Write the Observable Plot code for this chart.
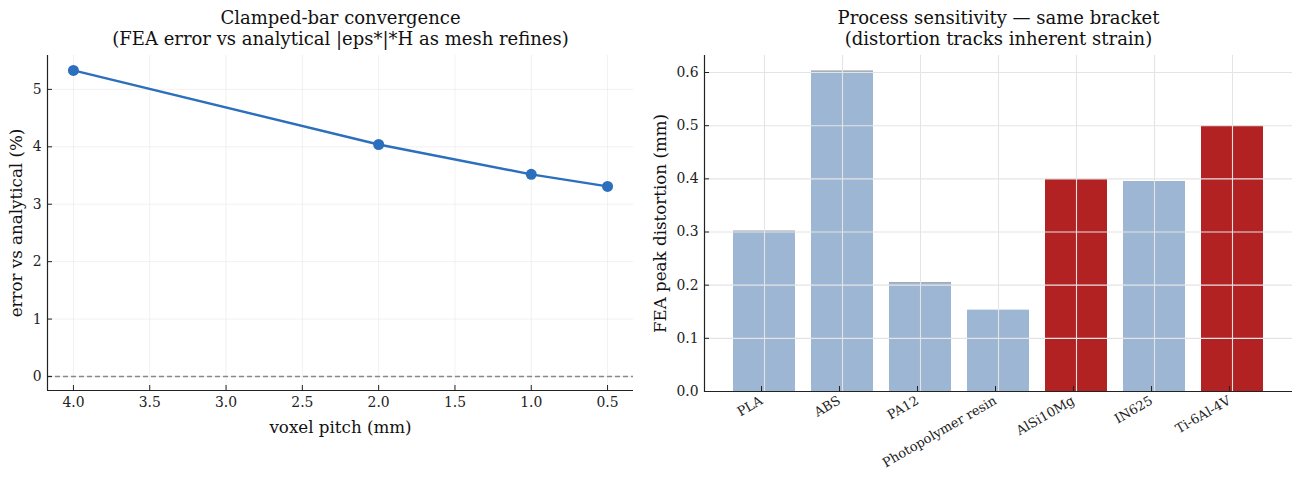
<!DOCTYPE html>
<html>
<head>
<meta charset="utf-8">
<script src="https://cdn.jsdelivr.net/npm/d3@7"></script>
<script src="https://cdn.jsdelivr.net/npm/@observablehq/plot@0.6"></script>
<style>
  body { margin: 0; background: #fff; }
  #wrap { display: flex; width: 1299px; height: 480px; }
  svg { font-family: "DejaVu Serif", serif; }
</style>
</head>
<body>
<div id="wrap"></div>
<script>
// ---- Left panel data ----
const pitch = [4.0, 2.0, 1.0, 0.5];
const errPct = [5.33, 4.04, 3.52, 3.31];
const pitchTicks = [4.0, 3.5, 3.0, 2.5, 2.0, 1.5, 1.0, 0.5];
const errTicks = [0, 1, 2, 3, 4, 5];
const leftTitle = ["Clamped-bar convergence", "(FEA error vs analytical |eps*|*H as mesh refines)"];
const leftXLabel = "voxel pitch (mm)";
const leftYLabel = "error vs analytical (%)";

// ---- Right panel data ----
const materials = ["PLA", "ABS", "PA12", "Photopolymer resin", "AlSi10Mg", "IN625", "Ti-6Al-4V"];
const distortion = [0.301, 0.602, 0.204, 0.153, 0.399, 0.395, 0.499];
const highlighted = [false, false, false, false, true, false, true];
const edgeTop = [0.302, 0.603, 0.205, null, null, null, null];
const distTicks = [0.0, 0.1, 0.2, 0.3, 0.4, 0.5, 0.6];
const rightTitle = ["Process sensitivity \u2014 same bracket", "(distortion tracks inherent strain)"];
const rightYLabel = "FEA peak distortion (mm)";

const lineData = pitch.map((p, i) => ({pitch: p, err: errPct[i]}));
const barData = materials.map((m, i) => ({material: m, value: distortion[i], hi: highlighted[i], edge: edgeTop[i]}));

const TITLE = 18, LABEL = 16.7, TICK = 13.9;

const xDom = [4.17, 0.33];
const yDom = [-0.244, 5.59];

const left = Plot.plot({
  width: 650, height: 480,
  marginLeft: 47, marginRight: 17, marginTop: 55, marginBottom: 90,
  style: {fontFamily: "DejaVu Serif", fontSize: "14px", background: "white", color: "#222"},
  x: {domain: xDom, ticks: pitchTicks, tickFormat: d3.format(".1f")},
  y: {domain: yDom, ticks: errTicks, tickFormat: d3.format("d")},
  marks: [
    Plot.gridX(pitchTicks, {stroke: "#e8e8e8", strokeOpacity: 0.6}),
    Plot.gridY(errTicks, {stroke: "#e8e8e8", strokeOpacity: 0.6}),
    Plot.ruleY([0], {stroke: "#888", strokeWidth: 1.3, strokeDasharray: "5,3"}),
    Plot.line(lineData, {x: "pitch", y: "err", stroke: "#2c6fbd", strokeWidth: 2.4}),
    Plot.dot(lineData, {x: "pitch", y: "err", r: 5.5, fill: "#2c6fbd"}),
    Plot.ruleX([xDom[0]], {stroke: "#222", strokeWidth: 1.2}),
    Plot.ruleY([yDom[0]], {stroke: "#222", strokeWidth: 1.2}),
    Plot.axisX(pitchTicks, {tickSize: -5, tickPadding: 12, fontSize: TICK, tickFormat: d3.format(".1f"), label: null, stroke: "#222"}),
    Plot.axisY(errTicks, {tickSize: -5, tickPadding: 11, fontSize: TICK, tickFormat: d3.format("d"), label: null, stroke: "#222"}),
    Plot.text([leftXLabel], {text: d => d, frameAnchor: "bottom", dy: 37, fontSize: LABEL, textAnchor: "middle", lineAnchor: "middle", fill: "#111"}),
    Plot.text([leftYLabel], {text: d => d, frameAnchor: "left", dx: -31, rotate: -90, fontSize: LABEL, textAnchor: "middle", lineAnchor: "middle", fill: "#111"}),
    Plot.text([leftTitle[0]], {text: d => d, frameAnchor: "top", dy: -37, fontSize: TITLE, lineAnchor: "middle", fill: "#111"}),
    Plot.text([leftTitle[1]], {text: d => d, frameAnchor: "top", dy: -16, fontSize: TITLE, lineAnchor: "middle", fill: "#111"})
  ]
});

const yDom2 = [0, 0.632];
const right = Plot.plot({
  width: 649, height: 480,
  marginLeft: 54, marginRight: 7, marginTop: 55, marginBottom: 89,
  style: {fontFamily: "DejaVu Serif", fontSize: "14px", background: "white", color: "#222"},
  x: {domain: materials, paddingInner: 0.21, paddingOuter: 0.35},
  y: {domain: yDom2, ticks: distTicks},
  marks: [
    Plot.barY(barData, {x: "material", y: "value", fill: d => d.hi ? "#b22222" : "#9db6d3"}),
    Plot.tickY(barData.filter(d => d.edge != null), {x: "material", y: "edge", stroke: "#a9a9a9", strokeWidth: 1}),
    Plot.gridX({stroke: "#e4e4e4", strokeOpacity: 1, strokeWidth: 1.1}),
    Plot.gridY(distTicks, {stroke: "#e4e4e4", strokeOpacity: 1, strokeWidth: 1.1}),
    Plot.ruleY([0], {stroke: "#222", strokeWidth: 1.2}),
    Plot.frame({anchor: "left", stroke: "#222", strokeWidth: 1.2}),
    Plot.axisX({tickSize: -5, tickPadding: 13, dx: -3, tickRotate: -30, fontSize: 13, label: null, stroke: "#222"}),
    Plot.axisY(distTicks, {tickSize: -5, tickPadding: 11, fontSize: TICK, tickFormat: d3.format(".1f"), label: null, stroke: "#222"}),
    Plot.text([rightYLabel], {text: d => d, frameAnchor: "left", dx: -44, rotate: -90, fontSize: LABEL, textAnchor: "middle", lineAnchor: "middle", fill: "#111"}),
    Plot.text([rightTitle[0]], {text: d => d, frameAnchor: "top", dy: -37, fontSize: TITLE, lineAnchor: "middle", fill: "#111"}),
    Plot.text([rightTitle[1]], {text: d => d, frameAnchor: "top", dy: -16, fontSize: TITLE, lineAnchor: "middle", fill: "#111"})
  ]
});

const wrap = document.getElementById("wrap");
wrap.appendChild(left);
wrap.appendChild(right);
</script>
</body>
</html>
